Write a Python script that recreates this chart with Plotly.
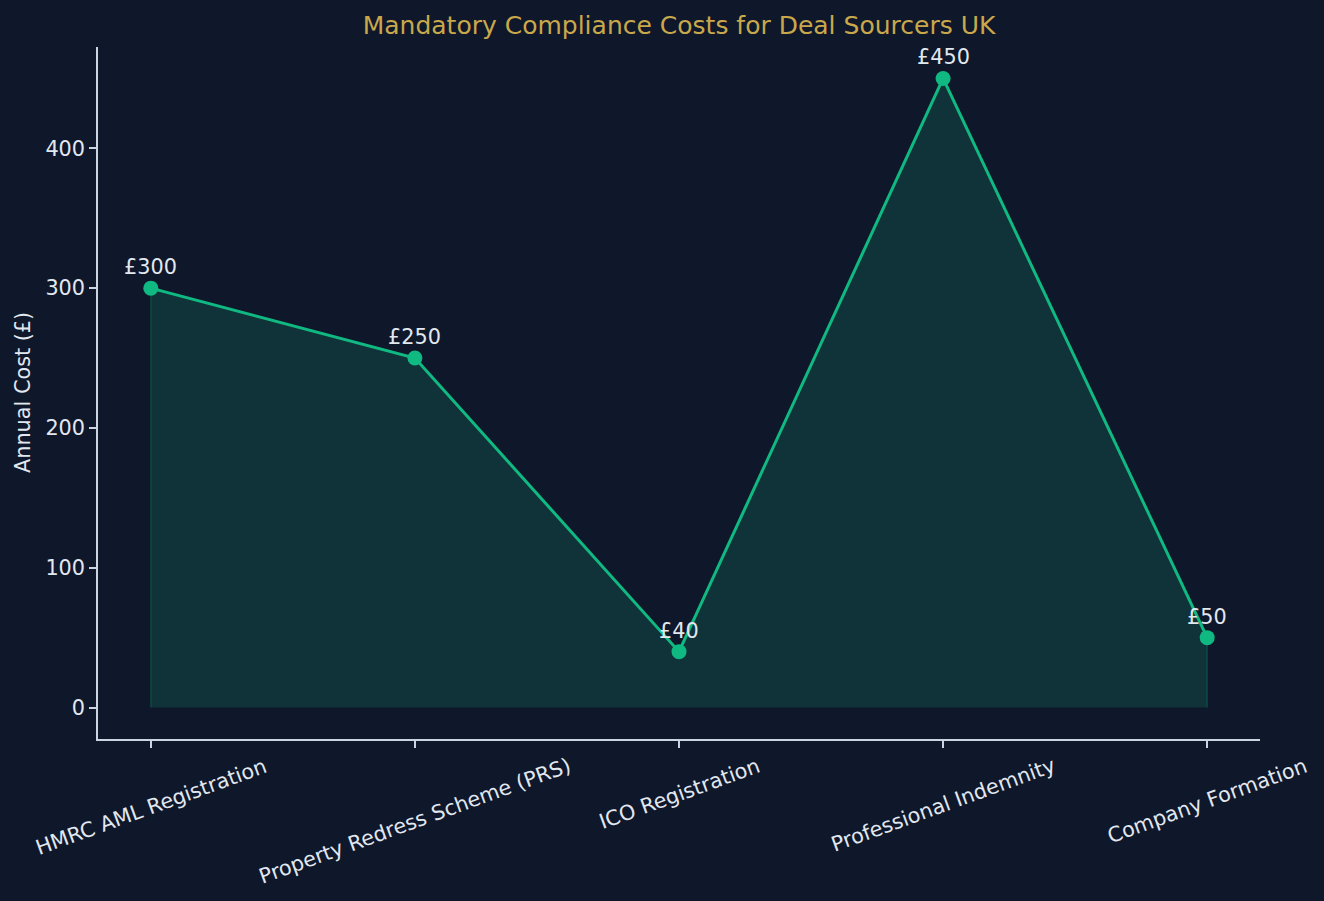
import plotly.graph_objects as go

categories = ["HMRC AML Registration", "Property Redress Scheme (PRS)", "ICO Registration",
              "Professional Indemnity", "Company Formation"]
costs = [300, 250, 40, 450, 50]
cost_labels = ["£300", "£250", "£40", "£450", "£50"]
y_ticks = [0, 100, 200, 300, 400]

BG = "#0f172a"
LINE = "#10b981"
TEXT = "#e2e8f0"
AXIS = "#cbd5e1"
GOLD = "#c9a84c"
FONT = "DejaVu Sans"
FS = 20.8

W, H = 1324, 901
L, R, T, B = 98, 64, 46.5, 161.5

xs = list(range(len(categories)))

fig = go.Figure()

# filled area polygon (closed down to zero)
fig.add_trace(go.Scatter(
    x=[xs[0]] + xs + [xs[-1]],
    y=[0] + costs + [0],
    mode="lines", fill="toself",
    fillcolor="rgba(16,185,129,0.18)",
    line=dict(color="rgba(16,185,129,0.22)", width=1.5),
    hoverinfo="skip", showlegend=False,
))

fig.add_trace(go.Scatter(
    x=xs, y=costs, mode="lines+markers",
    line=dict(color=LINE, width=3),
    marker=dict(color=LINE, size=15),
    showlegend=False,
))

annotations = []
for x, y, t in zip(xs, costs, cost_labels):
    annotations.append(dict(x=x, y=y, xref="x", yref="y", text=t, showarrow=False,
                            yanchor="middle", xanchor="center", yshift=21,
                            font=dict(family=FONT, size=FS, color=TEXT)))
for x, c in zip(xs, categories):
    annotations.append(dict(x=x, y=0, xref="paper" if False else "x", yref="paper", text=c, showarrow=False,
                            textangle=-20, xanchor="center", yanchor="top", yshift=-12,
                            font=dict(family=FONT, size=FS, color=TEXT)))
annotations.append(dict(x=(23 - L) / (W - L - R), y=((H - B) - 393) / (H - B - T),
                        xref="paper", yref="paper",
                        text="Annual Cost (£)", showarrow=False, textangle=-90,
                        xanchor="center", yanchor="middle",
                        font=dict(family=FONT, size=FS, color=TEXT)))

fig.update_layout(
    width=W, height=H,
    paper_bgcolor=BG, plot_bgcolor=BG,
    margin=dict(l=L, r=R, t=T, b=B, pad=0),
    title=dict(text="Mandatory Compliance Costs for Deal Sourcers UK",
               font=dict(family=FONT, size=25, color=GOLD),
               x=0.5, xref="paper", xanchor="center",
               y=(H - 25) / H, yref="container", yanchor="middle"),
    xaxis=dict(range=[-0.2, 4.2], tickvals=xs, showticklabels=False,
               showgrid=False, zeroline=False, showline=True, linecolor=AXIS, linewidth=1.5,
               ticks="outside", ticklen=7, tickwidth=1.5, tickcolor=AXIS),
    yaxis=dict(range=[-22.5, 472.5], tickvals=y_ticks,
               tickfont=dict(family=FONT, size=FS, color=TEXT),
               showgrid=False, zeroline=False, showline=True, linecolor=AXIS, linewidth=1.5,
               ticks="outside", ticklen=7, tickwidth=1.5, tickcolor=AXIS),
    annotations=annotations,
)

fig.write_html("out.html")
